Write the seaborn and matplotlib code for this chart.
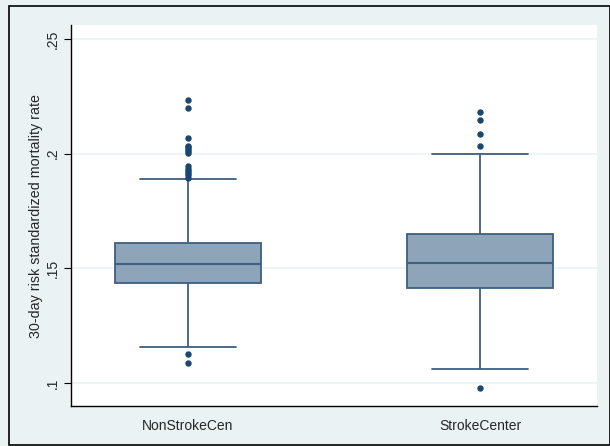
import numpy as np
import pandas as pd
import seaborn as sns
import matplotlib
matplotlib.use("Agg")
import matplotlib.pyplot as plt
from matplotlib.patches import Rectangle

# ---- data ----
categories = ["NonStrokeCen", "StrokeCenter"]
q1 = [0.1435, 0.1416]
median = [0.1517, 0.1525]
q3 = [0.1612, 0.1649]
whisker_low = [0.1158, 0.1062]
whisker_high = [0.1891, 0.1999]
outliers_low = [[0.1087, 0.1126], [0.0980]]
outliers_high = [
    [0.1896, 0.1905, 0.1915, 0.1925, 0.1935, 0.1945,
     0.2003, 0.2012, 0.2020, 0.2028, 0.2035, 0.2070, 0.2201, 0.2235],
    [0.2033, 0.2084, 0.2146, 0.2180],
]
ytick_vals = [0.10, 0.15, 0.20, 0.25]
ytick_labels = [".1", ".15", ".2", ".25"]
ylabel = "30-day risk standardized mortality rate"

# ---- build an observation table reproducing the box statistics ----
K = 40
rows = []
for i, cat in enumerate(categories):
    vals = (outliers_low[i] + [whisker_low[i]] + [q1[i]] * K + [median[i]] * K
            + [q3[i]] * K + [whisker_high[i]] + outliers_high[i])
    rows += [(cat, v) for v in vals]
df = pd.DataFrame(rows, columns=["group", "rate"])

sns.set_theme(style="white")
plt.rcParams["font.family"] = ["Liberation Sans", "DejaVu Sans"]

bg = "#eaf2f3"
fig = plt.figure(figsize=(6.10, 4.46), dpi=100)
fig.patch.set_facecolor(bg)
W, H = 610, 446
ax = fig.add_axes([71 / W, (H - 406) / H, (597 - 71) / W, (406 - 25) / H])
ax.set_facecolor("white")

edge = "#3e5f80"
sns.boxplot(
    data=df, x="group", y="rate", order=categories, ax=ax,
    width=0.5, whis=1.58, color="#8ea5b9", linecolor=edge, linewidth=1.3,
    saturation=1,
    flierprops=dict(marker="o", markersize=3.6, markerfacecolor="#1a476f",
                    markeredgecolor="#1a476f"),
    medianprops=dict(color=edge, linewidth=1.5),
    capwidths=0.33,
)

ax.set_xlim(-0.4, 1.4)
ax.set_ylim(0.0900, 0.2561)
ax.set_yticks(ytick_vals)
ax.set_yticklabels(ytick_labels, rotation=90, va="center", fontsize=10)
ax.yaxis.grid(True, color=bg, linewidth=1.2)
ax.set_axisbelow(True)
ax.tick_params(axis="y", left=True, length=5, width=0.8, color="black", pad=3)
ax.tick_params(axis="x", bottom=False, labelsize=10, pad=3)
ax.set_xlabel("")
ax.set_ylabel(ylabel, fontsize=10.3, labelpad=2)
for s in ["top", "right"]:
    ax.spines[s].set_visible(False)
for s in ["left", "bottom"]:
    ax.spines[s].set_color("black")
    ax.spines[s].set_linewidth(1.0)

# outer frame of the graph region
fig.patches.append(Rectangle((9 / W, 1 / H), (W - 9.5) / W, (H - 7) / H,
                             transform=fig.transFigure, fill=False,
                             edgecolor="black", linewidth=1.2))

fig.savefig("out.png", dpi=100, facecolor=bg)
